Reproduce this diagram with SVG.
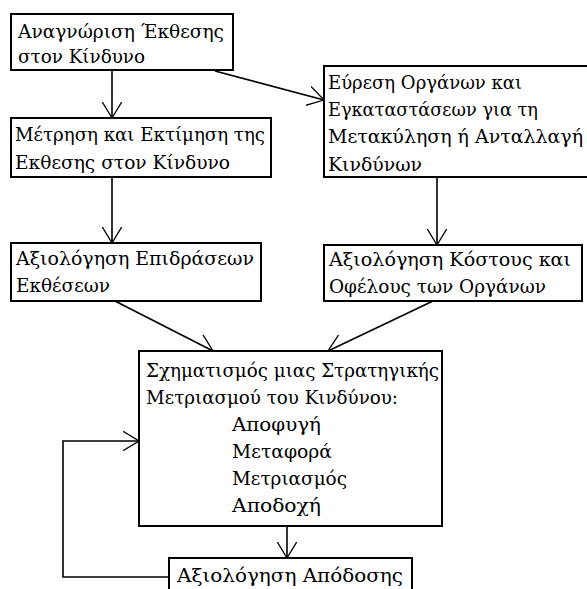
<svg xmlns="http://www.w3.org/2000/svg" width="587" height="589" viewBox="0 0 587 589">
<defs>
<marker id="ah" viewBox="0 0 17 20" refX="16.5" refY="10" markerWidth="17" markerHeight="20" markerUnits="userSpaceOnUse" orient="auto">
<path d="M0,0 L16.5,10 L0,20" fill="none" stroke="#000" stroke-width="1.3"/>
</marker>
<style>
rect{fill:#fff;stroke:#000;stroke-width:2}
text{font-family:"DejaVu Serif",serif;font-size:18px;fill:#000}
.c{fill:none;stroke:#000;stroke-width:1.6}
</style>
</defs>
<rect x="0" y="0" width="587" height="589" style="stroke:none"/>
<g id="connectors">
<line class="c" x1="112" y1="70" x2="112" y2="118" marker-end="url(#ah)"/>
<line class="c" x1="215" y1="71" x2="324" y2="100" marker-end="url(#ah)"/>
<line class="c" x1="112" y1="177" x2="112" y2="243" marker-end="url(#ah)"/>
<line class="c" x1="437" y1="177" x2="437" y2="245" marker-end="url(#ah)"/>
<line class="c" x1="115" y1="301" x2="213" y2="351" marker-end="url(#ah)"/>
<line class="c" x1="433" y1="301" x2="328" y2="351" marker-end="url(#ah)"/>
<line class="c" x1="287" y1="526" x2="287" y2="558" marker-end="url(#ah)"/>
<polyline class="c" points="169,577 63,577 63,441 139,441" marker-end="url(#ah)"/>
</g>
<g id="n1"><rect x="11" y="14" width="222" height="56"/>
<text x="18" y="38" textLength="206" lengthAdjust="spacingAndGlyphs">Αναγνώριση Έκθεσης</text><text x="18" y="63" textLength="127" lengthAdjust="spacingAndGlyphs">στον Κίνδυνο</text></g>
<g id="n2"><rect x="11" y="118" width="260" height="59"/>
<text x="15" y="141" textLength="250" lengthAdjust="spacingAndGlyphs">Μέτρηση και Εκτίμηση της</text><text x="15" y="169" textLength="215" lengthAdjust="spacingAndGlyphs">Εκθεσης στον Κίνδυνο</text></g>
<g id="n3"><rect x="324" y="66" width="280" height="111"/>
<text x="328" y="89" textLength="194" lengthAdjust="spacingAndGlyphs">Εύρεση Οργάνων και</text><text x="328" y="116" textLength="210" lengthAdjust="spacingAndGlyphs">Εγκαταστάσεων για τη</text><text x="328" y="143" textLength="255" lengthAdjust="spacingAndGlyphs">Μετακύληση ή Ανταλλαγή</text><text x="328" y="171" textLength="94" lengthAdjust="spacingAndGlyphs">Κινδύνων</text></g>
<g id="n4"><rect x="11" y="243" width="250" height="58"/>
<text x="16" y="265" textLength="238" lengthAdjust="spacingAndGlyphs">Αξιολόγηση Επιδράσεων</text><text x="16" y="292" textLength="94" lengthAdjust="spacingAndGlyphs">Εκθέσεων</text></g>
<g id="n5"><rect x="324" y="245" width="258" height="56"/>
<text x="329" y="266" textLength="242" lengthAdjust="spacingAndGlyphs">Αξιολόγηση Κόστους και</text><text x="329" y="293" textLength="217" lengthAdjust="spacingAndGlyphs">Οφέλους των Οργάνων</text></g>
<g id="n6"><rect x="139" y="351" width="303" height="175"/>
<text x="146" y="377" textLength="293" lengthAdjust="spacingAndGlyphs">Σχηματισμός μιας Στρατηγικής</text><text x="146" y="404" textLength="252" lengthAdjust="spacingAndGlyphs">Μετριασμού του Κινδύνου:</text>
<text x="232" y="431" textLength="89" lengthAdjust="spacingAndGlyphs">Αποφυγή</text><text x="232" y="458" textLength="100" lengthAdjust="spacingAndGlyphs">Μεταφορά</text><text x="232" y="485" textLength="115" lengthAdjust="spacingAndGlyphs">Μετριασμός</text><text x="232" y="512" textLength="89" lengthAdjust="spacingAndGlyphs">Αποδοχή</text></g>
<g id="n7"><rect x="169" y="558" width="243" height="50"/>
<text x="177" y="582" textLength="226" lengthAdjust="spacingAndGlyphs">Αξιολόγηση Απόδοσης</text></g>
</svg>
